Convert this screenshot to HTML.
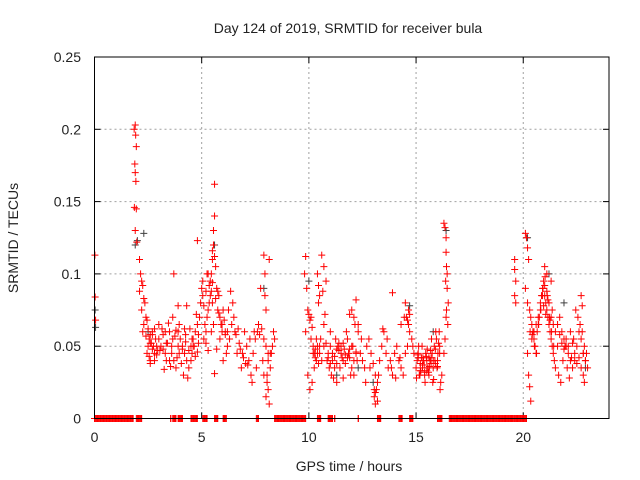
<!DOCTYPE html>
<html><head><meta charset="utf-8"><style>
body{margin:0;background:#fff}
svg{display:block;font-family:"Liberation Sans",sans-serif}
</style></head><body>
<svg id="chart" width="640" height="480" viewBox="0 0 640 480">
<rect width="640" height="480" fill="#fff"/>
<text x="348" y="33" font-size="14" text-anchor="middle" fill="#222">Day 124 of 2019, SRMTID for receiver bula</text>
<text x="18" y="238" font-size="14" text-anchor="middle" fill="#222" transform="rotate(-90 18 238)">SRMTID / TECUs</text>
<text x="349" y="471" font-size="14" text-anchor="middle" fill="#222">GPS time / hours</text>
<g id="grid"></g>
<g id="ticks"></g>
<g id="blackpts"></g>
<g id="redpts"></g>
<rect x="94.5" y="57" width="514.5" height="361.5" fill="none" stroke="#000" stroke-width="1"/>
</svg>
<script>
const xTicks=[0,5,10,15,20];
const yTicks=[0,0.05,0.1,0.15,0.2,0.25];
const yTickLabels=["0","0.05","0.1","0.15","0.2","0.25"];
const zeroStart=[0,1.95,3.55,3.65,3.9,4.5,5.05,5.6,6.0,7.55,8.4,10.4,10.9,11.2,12.3,13.2,14.2,14.7,16.0,16.55,19.55];
const zeroEnd=[1.8,2.2,3.56,3.8,4.1,4.8,5.25,5.75,6.15,7.65,9.85,10.55,11.1,11.21,12.31,13.35,14.35,14.85,16.2,19.5,20.15];
const hA=[0.02,0.03,0.05];
const vA=[0.113,0.084,0.068];
const hB=[1.85,1.9,1.92,1.95,1.88,1.9,1.93,1.86,1.95,1.9,1.97];
const vB=[0.2,0.203,0.196,0.188,0.176,0.17,0.164,0.146,0.145,0.13,0.122];
const hC=[2.1,2.15,2.2,2.1,2.25,2.3,2.2,2.35,2.4,2.3,2.25,2.45,2.5,2.4,2.55,2.6,2.5,2.45,2.65,2.7,2.55,2.6,2.75,2.8,2.7,2.85,2.9,2.95,2.6,2.8];
const vC=[0.11,0.1,0.095,0.088,0.092,0.083,0.075,0.08,0.07,0.065,0.06,0.068,0.062,0.057,0.055,0.058,0.05,0.045,0.052,0.048,0.043,0.04,0.05,0.045,0.06,0.055,0.05,0.047,0.038,0.04];
const hD=[3.0,3.1,3.2,3.3,3.4,3.5,3.6,3.7,3.8,3.9,4.0,4.1,4.2,4.3,4.4,4.5,4.6,4.7,4.8,4.9,3.15,3.35,3.55,3.75,3.95,4.15,4.35,4.55,4.75,4.95,3.25,3.45,3.65,3.85,4.05,4.25,4.45,4.65,4.85,3.7,3.9,4.3,4.6,4.8];
const vD=[0.055,0.05,0.048,0.045,0.052,0.06,0.045,0.04,0.035,0.05,0.055,0.048,0.045,0.04,0.035,0.05,0.055,0.06,0.065,0.07,0.062,0.04,0.036,0.057,0.065,0.03,0.028,0.045,0.072,0.08,0.034,0.066,0.07,0.042,0.038,0.053,0.062,0.05,0.058,0.1,0.078,0.078,0.05,0.123];
const hE=[5.0,5.05,5.1,5.15,5.2,5.25,5.3,5.35,5.4,5.45,5.5,5.5,5.55,5.55,5.6,5.6,5.65,5.7,5.75,5.8,5.85,5.9,5.95,6.0,6.05,6.1,6.15,6.2,5.1,5.2,5.3,5.45,5.55,5.7,5.85,6.0,5.4,5.5,5.6,5.25];
const vE=[0.09,0.085,0.078,0.065,0.06,0.07,0.075,0.08,0.095,0.1,0.11,0.116,0.12,0.13,0.14,0.162,0.105,0.09,0.088,0.085,0.07,0.065,0.06,0.075,0.068,0.058,0.045,0.05,0.055,0.052,0.047,0.06,0.065,0.048,0.055,0.04,0.085,0.094,0.031,0.1];
const hF=[6.2,6.3,6.4,6.5,6.6,6.7,6.8,6.9,7.0,7.1,7.2,7.3,7.4,7.5,7.6,7.7,7.8,7.9,8.0,8.1,8.2,8.3,8.4,6.25,6.45,6.65,6.85,7.05,7.25,7.45,7.65,7.85,8.05,8.25,6.35,6.55,6.75,6.95,7.15,7.35,7.55,7.75,7.95,8.15,8.35,7.9,7.95,8.0,8.05,8.1,8.0,7.9,8.1,8.2,8.15];
const vF=[0.06,0.055,0.065,0.07,0.058,0.062,0.048,0.045,0.06,0.05,0.04,0.03,0.045,0.055,0.06,0.058,0.062,0.055,0.05,0.045,0.035,0.05,0.055,0.075,0.08,0.045,0.035,0.038,0.055,0.06,0.065,0.04,0.03,0.045,0.088,0.06,0.052,0.042,0.037,0.025,0.035,0.09,0.085,0.11,0.06,0.113,0.1,0.075,0.025,0.02,0.015,0.03,0.04,0.045,0.01];
const hG=[9.8,9.85,9.9,9.95,10.0,10.05,10.1,10.15,10.2,10.25,10.3,10.35,10.4,10.45,10.5,9.85,9.95,10.05,10.15,10.25,10.35,10.45,10.6,10.7,10.8,10.9,11.0,11.1,11.2,11.3,11.4,11.5,11.6,11.7,11.8,11.9,12.0,12.1,12.2,12.3,10.65,10.75,10.85,10.95,11.05,11.15,11.25,11.35,11.45,11.55,11.65,11.75,11.85,11.95,12.05,12.15,12.25,10.4,10.45,10.5,10.55,10.7,11.0,11.3,11.6,11.9,12.2,12.0,12.1,12.3];
const vG=[0.1,0.112,0.09,0.075,0.072,0.068,0.07,0.063,0.05,0.045,0.042,0.04,0.045,0.038,0.05,0.06,0.03,0.02,0.025,0.035,0.055,0.08,0.113,0.105,0.095,0.045,0.05,0.04,0.035,0.048,0.052,0.045,0.04,0.038,0.055,0.042,0.035,0.03,0.045,0.06,0.088,0.072,0.04,0.035,0.03,0.028,0.055,0.05,0.035,0.042,0.048,0.06,0.045,0.03,0.05,0.065,0.04,0.1,0.092,0.085,0.055,0.065,0.06,0.025,0.028,0.072,0.082,0.075,0.07,0.065];
const hH=[12.4,12.5,12.6,12.7,12.8,12.9,13.0,13.1,13.2,13.3,13.4,13.5,13.6,13.7,13.8,13.9,14.0,14.1,14.2,14.3,14.4,14.5,14.6,14.7,14.8,14.9,12.45,12.65,12.85,13.05,13.25,13.45,13.65,13.85,14.05,14.25,14.45,14.65,14.85,13.05,13.1,13.15,13.2,13.1,13.9,14.3,14.5,14.55,14.6,14.65,14.7];
const vH=[0.045,0.04,0.035,0.05,0.055,0.045,0.038,0.03,0.025,0.04,0.05,0.06,0.045,0.035,0.04,0.03,0.045,0.05,0.04,0.035,0.03,0.045,0.05,0.06,0.055,0.045,0.055,0.025,0.035,0.02,0.03,0.062,0.055,0.035,0.028,0.042,0.07,0.075,0.05,0.015,0.01,0.02,0.012,0.018,0.087,0.065,0.08,0.07,0.068,0.065,0.072];
const hI=[15.0,15.05,15.1,15.15,15.2,15.25,15.3,15.35,15.4,15.45,15.5,15.55,15.6,15.65,15.7,15.75,15.8,15.85,15.9,15.95,16.0,16.05,16.1,16.15,16.2,15.02,15.12,15.22,15.32,15.42,15.52,15.62,15.72,15.82,15.92,16.02,16.12,15.08,15.18,15.28,15.38,15.48,15.58,15.68,15.78,15.88,15.98,16.08];
const vI=[0.035,0.04,0.045,0.03,0.038,0.042,0.035,0.04,0.032,0.045,0.04,0.035,0.03,0.04,0.038,0.045,0.035,0.05,0.048,0.055,0.04,0.052,0.045,0.025,0.03,0.028,0.05,0.033,0.042,0.025,0.048,0.036,0.055,0.027,0.06,0.045,0.02,0.044,0.03,0.05,0.037,0.043,0.032,0.047,0.025,0.04,0.035,0.06];
const hJ=[16.3,16.35,16.4,16.4,16.42,16.45,16.38,16.45,16.5,16.42,16.48,16.35,16.3,16.4];
const vJ=[0.135,0.132,0.125,0.115,0.105,0.1,0.095,0.09,0.08,0.075,0.065,0.055,0.045,0.07];
const hK=[19.6,19.6,19.65,19.6,19.65,20.1,20.15,20.2,20.25,20.1,20.2,20.3,20.35,20.4,20.45,20.5,20.55,20.6,20.65,20.7,20.75,20.8,20.85,20.9,20.95,21.0,21.05,21.1,21.15,21.2,21.25,21.3,21.35,21.4,21.45,21.5,20.32,20.42,20.52,20.62,20.72,20.82,20.92,21.02,21.12,21.22,21.32,21.42,20.2,20.25,20.3,20.35];
const vK=[0.11,0.103,0.095,0.085,0.08,0.128,0.125,0.118,0.11,0.09,0.08,0.075,0.07,0.065,0.06,0.055,0.05,0.045,0.06,0.065,0.07,0.08,0.085,0.09,0.095,0.085,0.08,0.075,0.07,0.065,0.06,0.055,0.05,0.045,0.04,0.035,0.06,0.058,0.05,0.045,0.065,0.075,0.09,0.098,0.085,0.07,0.06,0.05,0.045,0.03,0.022,0.012];
const hL=[21.6,21.7,21.8,21.9,22.0,22.1,22.2,22.3,22.4,22.5,22.6,22.7,22.8,22.9,23.0,21.65,21.75,21.85,21.95,22.05,22.15,22.25,22.35,22.45,22.55,22.65,22.75,22.85,22.95,22.7,22.75,22.8,22.85,21.0,21.1,21.3];
const vL=[0.065,0.07,0.06,0.055,0.05,0.045,0.04,0.035,0.045,0.05,0.06,0.055,0.045,0.04,0.035,0.03,0.025,0.04,0.05,0.035,0.028,0.042,0.055,0.075,0.07,0.065,0.06,0.05,0.045,0.085,0.078,0.045,0.025,0.105,0.1,0.095];
const hM=[2.6,2.7,2.8,2.9,3.05,3.2,3.35,3.5,3.65,3.8,3.95,4.1,4.25,4.4,4.55,4.7,4.85,3.0,3.3,3.6,3.9,4.2,4.5,4.8,5.05,5.2,5.35,5.5,5.65,5.8,5.95,6.1,5.3,5.45,5.6,5.75];
const vM=[0.052,0.058,0.062,0.044,0.047,0.058,0.052,0.04,0.055,0.061,0.045,0.05,0.058,0.047,0.055,0.043,0.052,0.065,0.06,0.05,0.06,0.062,0.04,0.046,0.095,0.088,0.092,0.08,0.083,0.073,0.065,0.06,0.1,0.088,0.112,0.075];
const hN=[10.1,10.3,10.5,10.7,10.9,11.1,11.3,11.5,11.7,11.9,12.1,10.2,10.4,10.6,10.8,11.0,11.2,11.4,11.6,11.8,12.0,12.2,15.1,15.3,15.5,15.7,15.9,16.1,15.2,15.4,15.6,15.8,16.0];
const vN=[0.055,0.048,0.045,0.05,0.042,0.045,0.038,0.05,0.044,0.048,0.04,0.045,0.05,0.04,0.052,0.038,0.043,0.047,0.052,0.042,0.05,0.046,0.042,0.037,0.033,0.042,0.038,0.05,0.033,0.03,0.042,0.04,0.036];
const hO=[20.4,20.5,20.6,20.7,20.8,20.9,21.0,21.1,21.2,21.3,21.4,21.5,21.6,21.7,21.8,21.9,22.0,22.1,22.2,22.3,22.4,22.5,22.6,22.7,22.8,22.9,20.95,21.05,21.15,21.25,21.35];
const vO=[0.055,0.06,0.065,0.07,0.075,0.085,0.092,0.088,0.08,0.07,0.065,0.06,0.05,0.058,0.052,0.048,0.055,0.05,0.06,0.052,0.04,0.038,0.042,0.035,0.03,0.04,0.078,0.072,0.082,0.068,0.075];
const blackHours=[0.03,0.05,1.9,2.0,2.3,2.5,5.6,7.9,10.0,11.3,12.3,13.0,14.7,15.8,16.4,20.2,21.2,21.9,22.9];
const blackVals=[0.075,0.063,0.12,0.123,0.128,0.06,0.12,0.09,0.095,0.03,0.035,0.025,0.078,0.06,0.13,0.125,0.1,0.08,0.035];

const NS="http://www.w3.org/2000/svg";
const X0=94.5,X1=609,Y0=418.5,Y1=57;
function xs(h){return X0+(h/24)*(X1-X0);}
function ys(v){return Y0-(v/0.25)*(Y0-Y1);}
function mk(tag,attrs,parent){const e=document.createElementNS(NS,tag);for(const k in attrs)e.setAttribute(k,attrs[k]);parent.appendChild(e);return e;}
const grid=document.getElementById('grid'),ticks=document.getElementById('ticks');
xTicks.forEach((t,i)=>{
  const x=xs(t);
  if(t>0){const g=mk('line',{x1:x,x2:x,y1:Y1,y2:Y0,stroke:'#a0a0a0','stroke-dasharray':'2,3'},grid);
  
  }
  mk('line',{x1:x,x2:x,y1:Y0,y2:Y0-6,stroke:'#000'},ticks);
  mk('line',{x1:x,x2:x,y1:Y1,y2:Y1+6,stroke:'#000'},ticks);
  const l=mk('text',{x:x,y:442,'font-size':14,'text-anchor':'middle',fill:'#222'},ticks);
  l.textContent=String(t);
  
  
});
yTicks.forEach((t,i)=>{
  const y=ys(t);
  if(t>0&&t<0.25){const g=mk('line',{x1:X0,x2:X1,y1:y,y2:y,stroke:'#a0a0a0','stroke-dasharray':'2,3'},grid);
  
  }
  mk('line',{x1:X0,x2:X0+6,y1:y,y2:y,stroke:'#000'},ticks);
  mk('line',{x1:X1,x2:X1-6,y1:y,y2:y,stroke:'#000'},ticks);
  const l=mk('text',{x:81,y:y+5,'font-size':14,'text-anchor':'end',fill:'#222'},ticks);
  l.textContent=yTickLabels[i];
  
  
});
function cross(h,v,color,parent){
  const x=xs(h),y=ys(v);
  const p=mk('path',{d:`M${x-3.5},${y}H${x+3.5}M${x},${y-3.5}V${y+3.5}`,stroke:color,'stroke-width':1,fill:'none'},parent);
  
  
}
const bp=document.getElementById('blackpts'),rp=document.getElementById('redpts');
for(let i=0;i<Math.min(blackHours.length,blackVals.length);i++)cross(blackHours[i],blackVals[i],'#404040',bp);
const hs=[hA,hB,hC,hD,hE,hF,hG,hH,hI,hJ,hK,hL,hM,hN,hO],vs=[vA,vB,vC,vD,vE,vF,vG,vH,vI,vJ,vK,vL,vM,vN,vO];
hs.forEach((h,s)=>{const v=vs[s];for(let i=0;i<Math.min(h.length,v.length);i++)cross(h[i],v[i],'#ff0000',rp);});
for(let k=0;k<zeroStart.length;k++){
  for(let h=zeroStart[k];h<=zeroEnd[k]+1e-9;h+=0.04)cross(h,0,'#ff0000',rp);
  cross(zeroEnd[k],0,'#ff0000',rp);
}
</script>
</body></html>
